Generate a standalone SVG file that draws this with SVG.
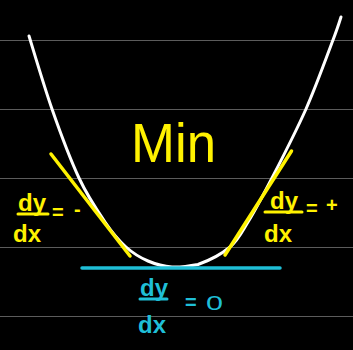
<svg xmlns="http://www.w3.org/2000/svg" width="353" height="350" viewBox="0 0 353 350">
<style>
.grid{stroke:#5c5c5c;stroke-width:1}
.curve{fill:none;stroke:#ffffff;stroke-width:3;stroke-linecap:round}
.ytan{stroke:#fff200;stroke-width:3.5;stroke-linecap:round}
.ctan{stroke:#1fbfd7;stroke-width:3.5;stroke-linecap:round}
.y{fill:#fff200;font-family:"Liberation Sans",Arial,sans-serif}
.c{fill:#1fbfd7;font-family:"Liberation Sans",Arial,sans-serif}
.frac{font-size:24px;font-weight:bold}
.op{font-size:20px;font-weight:bold}
.ybar{stroke:#fff200;stroke-width:3;stroke-linecap:round}
.cbar{stroke:#1fbfd7;stroke-width:3;stroke-linecap:round}
</style>
<rect width="353" height="350" fill="#000000"/>
<g id="grid">
<line class="grid" x1="0" y1="40.5" x2="353" y2="40.5"/>
<line class="grid" x1="0" y1="109.5" x2="353" y2="109.5"/>
<line class="grid" x1="0" y1="178.5" x2="353" y2="178.5"/>
<line class="grid" x1="0" y1="247.5" x2="353" y2="247.5"/>
<line class="grid" x1="0" y1="316.5" x2="353" y2="316.5"/>
</g>
<g id="parabola">
<path class="curve" d="M29,36 C32.8,48.2 43.7,85.3 52,109 C60.3,132.7 70.2,159.2 79,178 C87.8,196.8 97.2,210.5 105,222 C112.8,233.5 118.8,240.5 126,247 C133.2,253.5 140.3,257.7 148,261 C155.7,264.3 163.7,266.5 172,267 C180.3,267.5 188.3,266.3 198,264.5 C207.7,261 221.7,254 230,247 C238.3,240 241,233.5 248,222 C255,210.5 262.3,196.8 272,178 C281.7,159.2 295.8,132 306,109 C316.2,86 327.2,55.3 333,40 C338.8,24.7 339.7,20.8 341,17"/>
</g>
<g id="connectors">
<line class="ytan" x1="51" y1="154" x2="130" y2="256"/>
<line class="ytan" x1="291.5" y1="151" x2="225" y2="255"/>
<line class="ctan" x1="82" y1="268" x2="280" y2="268"/>
</g>
<g id="label-min">
<text class="y" x="131" y="162" font-size="55" textLength="85" lengthAdjust="spacingAndGlyphs">Min</text>
</g>
<g id="label-negative">
<text class="y frac" x="18" y="211">dy</text>
<line class="ybar" x1="18" y1="214" x2="48" y2="214"/>
<text class="y frac" x="13" y="242">dx</text>
<text class="y op" x="52" y="219">=</text>
<text class="y op" x="74" y="216">-</text>
</g>
<g id="label-positive">
<text class="y frac" x="270" y="209">dy</text>
<line class="ybar" x1="265" y1="212" x2="302" y2="212"/>
<text class="y frac" x="264" y="242">dx</text>
<text class="y op" x="306" y="215">=</text>
<text class="y op" x="326" y="212">+</text>
</g>
<g id="label-zero">
<text class="c frac" x="140" y="296">dy</text>
<line class="cbar" x1="140" y1="299" x2="167" y2="299"/>
<text class="c frac" x="138" y="333">dx</text>
<text class="c op" x="185" y="309">=</text>
<text class="c" x="206" y="310" font-size="21" textLength="17" lengthAdjust="spacingAndGlyphs">0</text>
</g>
</svg>
